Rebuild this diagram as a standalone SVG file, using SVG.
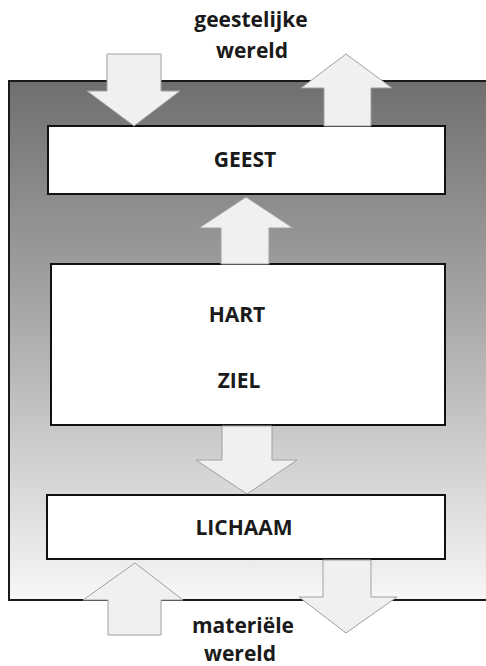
<svg xmlns="http://www.w3.org/2000/svg" width="486" height="666" viewBox="0 0 486 666">
<defs>
<linearGradient id="bg" x1="0" y1="0" x2="0" y2="1">
<stop offset="0" stop-color="#6f6f6f"/>
<stop offset="0.45" stop-color="#a8a8a8"/>
<stop offset="1" stop-color="#f7f7f7"/>
</linearGradient>
<style>
.lbl{font-family:"Open Sans","Liberation Sans",sans-serif;font-weight:bold;font-size:21px;fill:#1a1a1a;text-anchor:middle}
.box{fill:#ffffff;stroke:#111;stroke-width:2}
.arr{fill:#f0f0f0;stroke:#a0a0a0;stroke-width:1}
</style>
</defs>
<rect width="486" height="666" fill="#ffffff"/>
<g id="outer">
<rect x="9" y="81" width="482" height="519" fill="url(#bg)" stroke="#1a1a1a" stroke-width="2"/>
</g>
<g id="geest">
<rect class="box" x="48" y="126" width="397" height="68"/>
<text class="lbl" x="245" y="167">GEEST</text>
</g>
<g id="hartziel">
<rect class="box" x="51" y="264" width="394" height="161"/>
<text class="lbl" x="237" y="322">HART</text>
<text class="lbl" x="239" y="388">ZIEL</text>
</g>
<g id="lichaam">
<rect class="box" x="47" y="495" width="398" height="64"/>
<text class="lbl" x="244" y="535">LICHAAM</text>
</g>
<g id="connectors">
<polygon class="arr" points="107,54 161,54 161,91 180,91 134,126 87,91 107,91"/>
<polygon class="arr" points="324,126 371,126 371,88 392,88 346,54 301,88 324,88"/>
<polygon class="arr" points="221,264 269,264 269,228 293,228 246,197 199,228 221,228"/>
<polygon class="arr" points="222,426 272,426 272,460 297,460 247,494 196,460 222,460"/>
<polygon class="arr" points="108,635 161,635 161,600 183,600 135,563 83,600 108,600"/>
<polygon class="arr" points="323,560 371,560 371,597 397,597 346,633 299,597 323,597"/>
</g>
<g id="spiritual">
<text class="lbl" x="251" y="27">geestelijke</text>
<text class="lbl" x="252" y="58">wereld</text>
</g>
<g id="material">
<text class="lbl" x="243" y="633">materiële</text>
<text class="lbl" x="240" y="661">wereld</text>
</g>
</svg>
